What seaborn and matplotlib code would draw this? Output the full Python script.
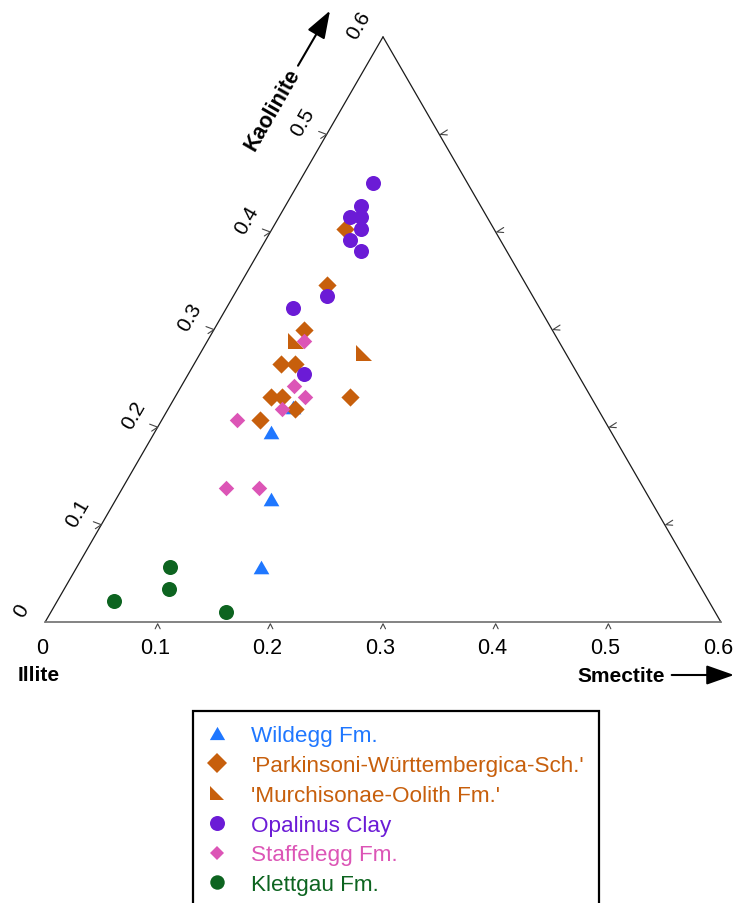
import numpy as np
import pandas as pd
import matplotlib
matplotlib.use("Agg")
import matplotlib.pyplot as plt
import seaborn as sns
from matplotlib.lines import Line2D
from matplotlib.path import Path

# Clay-mineral fractions per sample: smectite and kaolinite (illite is the remainder)
wildegg_smectite = [0.103, 0.138, 0.163, 0.110]
wildegg_kaolinite = [0.195, 0.126, 0.057, 0.221]

parkinsoni_smectite = [0.065, 0.077, 0.080, 0.077, 0.089, 0.085, 0.095, 0.155, 0.112, 0.087]
parkinsoni_kaolinite = [0.403, 0.346, 0.300, 0.265, 0.265, 0.231, 0.231, 0.231, 0.219, 0.207]

murchisonae_smectite = [0.079, 0.145]
murchisonae_kaolinite = [0.288, 0.276]

opalinus_smectite = [0.066, 0.067, 0.063, 0.073, 0.079, 0.075, 0.090, 0.083, 0.059, 0.103]
opalinus_kaolinite = [0.450, 0.427, 0.415, 0.415, 0.403, 0.392, 0.381, 0.334, 0.322, 0.254]

staffelegg_smectite = [0.086, 0.100, 0.115, 0.101, 0.067, 0.092, 0.121]
staffelegg_kaolinite = [0.288, 0.242, 0.231, 0.219, 0.207, 0.138, 0.138]

klettgau_smectite = [0.050, 0.093, 0.082, 0.155]
klettgau_kaolinite = [0.022, 0.034, 0.057, 0.011]

formations = ["Wildegg Fm.", "'Parkinsoni-Württembergica-Sch.'", "'Murchisonae-Oolith Fm.'",
              "Opalinus Clay", "Staffelegg Fm.", "Klettgau Fm."]
smectite = [wildegg_smectite, parkinsoni_smectite, murchisonae_smectite,
            opalinus_smectite, staffelegg_smectite, klettgau_smectite]
kaolinite = [wildegg_kaolinite, parkinsoni_kaolinite, murchisonae_kaolinite,
             opalinus_kaolinite, staffelegg_kaolinite, klettgau_kaolinite]

axis_ticks = [0.0, 0.1, 0.2, 0.3, 0.4, 0.5, 0.6]
tick_labels = ["0", "0.1", "0.2", "0.3", "0.4", "0.5", "0.6"]

colors = ["#1f77ff", "#c75f0c", "#c75f0c", "#6b1bd6", "#dc55b6", "#0d6420"]

tri_up = Path([(-0.5, -0.433), (0.5, -0.433), (0.0, 0.433), (-0.5, -0.433)],
              [Path.MOVETO, Path.LINETO, Path.LINETO, Path.CLOSEPOLY])
corner = Path([(-1, 1), (-1, -1), (1, -1), (-1, 1)],
              [Path.MOVETO, Path.LINETO, Path.LINETO, Path.CLOSEPOLY])
markers = [tri_up, "D", corner, "o", "D", "o"]
point_sizes = [128, 86, 117, 117, 62, 117]
legend_sizes = [11.0, 9.8, 10.2, 10.8, 7.0, 10.4]

sns.set_style("white")
plt.rcParams["font.family"] = ["Liberation Sans", "DejaVu Sans"]
plt.rcParams["text.color"] = "black"

SQ = np.sqrt(3) / 2
px = 1 / 1126.7  # one figure pixel in data units

# long-form table in cartesian ternary coordinates
rows = []
for name, s_vals, k_vals in zip(formations, smectite, kaolinite):
    for s, k in zip(s_vals, k_vals):
        rows.append({"formation": name, "x": s + k / 2, "y": k * SQ})
df = pd.DataFrame(rows)

fig = plt.figure(figsize=(7.36, 9.04), dpi=100)
ax = fig.add_axes([0, 0, 1, 1])
ax.set_xlim(-45 * px, (736 - 45) * px)
ax.set_ylim(-(904 - 623.3) * px, 623.3 * px)
ax.axis("off")

# triangle frame
top = axis_ticks[-1]
ax.plot([0, top / 2], [0, top * SQ], color="#1a1a1a", lw=0.9, zorder=1)
ax.plot([top / 2, top], [top * SQ, 0], color="#1a1a1a", lw=0.9, zorder=1)
ax.plot([0, top], [0, 0], color="#7a7a7a", lw=1.3, zorder=1)

tick_kw = dict(color="#444444", lw=0.8, zorder=1)
for t in axis_ticks[1:-1]:
    # bottom edge carets
    ax.plot([t - 2.5 * px, t, t + 2.5 * px], [-6.5 * px, -1.5 * px, -6.5 * px], **tick_kw)
    # left edge carets
    lx, ly = t / 2, t * SQ
    ax.plot([lx - 8 * px, lx, lx - 6 * px], [ly + 3 * px, ly, ly - 4 * px], **tick_kw)
    # right edge carets
    rx, ry = top - t / 2, t * SQ
    ax.plot([rx + 8 * px, rx + 1 * px, rx + 8 * px], [ry + 4.5 * px, ry, ry - 0.5 * px], **tick_kw)

for t, lab in zip(axis_ticks, tick_labels):
    ax.text(t - 3 * px, -25 * px, lab, ha="center", va="center", fontsize=15.5)
    ax.text(t / 2 - 24 * px, t * SQ + 12.5 * px, lab, ha="center", va="center",
            rotation=60, rotation_mode="anchor", fontsize=15)

# axis titles and arrows
ax.text(-6 * px, -52 * px, "Illite", ha="center", va="center", fontsize=15,
        fontweight="bold")
ax.text(575.7 * px, -53.5 * px, "Smectite", ha="center", va="center", fontsize=15,
        fontweight="bold")
ax.text(227.5 * px, 513.3 * px, "Kaolinite", ha="center", va="center", fontsize=15.5,
        fontweight="bold", rotation=60, rotation_mode="anchor")
arrow_kw = dict(arrowstyle="-|>,head_length=1.7,head_width=0.6", color="black",
                lw=1.5, shrinkA=0, shrinkB=0)
ax.annotate("", xy=(689 * px, -52.7 * px), xytext=(626.7 * px, -52.7 * px),
            arrowprops=arrow_kw)
ax.annotate("", xy=(285 * px, 611.6 * px), xytext=(253 * px, 556.6 * px),
            arrowprops=arrow_kw)

# samples
for name, mk, sz, col in zip(formations, markers, point_sizes, colors):
    sub = df[df["formation"] == name]
    sns.scatterplot(data=sub, x="x", y="y", marker=mk, s=sz, color=col,
                    linewidth=0, ax=ax, zorder=3, legend=False)

handles = [Line2D([], [], marker=mk, linestyle="None", markersize=ms,
                  markerfacecolor=col, markeredgewidth=0, color=col)
           for mk, ms, col in zip(markers, legend_sizes, colors)]
leg = fig.legend(handles, formations, loc="upper left",
                 bbox_to_anchor=(193.3 / 736, 1 - 711.7 / 904),
                 bbox_transform=fig.transFigure, borderaxespad=0,
                 fontsize=16.2, frameon=True, fancybox=False, framealpha=1,
                 edgecolor="black", borderpad=0.65, handlelength=0.77,
                 handletextpad=1.16, labelspacing=0.39, labelcolor=colors)
leg.get_frame().set_linewidth(1.6)

fig.savefig("out.png", dpi=100)
